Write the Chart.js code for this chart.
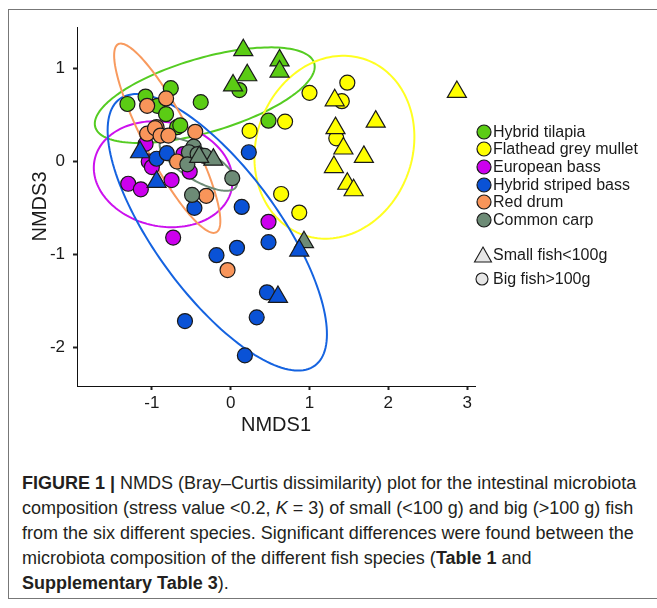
<!DOCTYPE html>
<html>
<head>
<meta charset="utf-8">
<script src="https://cdn.jsdelivr.net/npm/chart.js@4.4.1/dist/chart.umd.min.js"></script>
<style>
  body { margin: 0; width: 657px; height: 608px; background: #fff; position: relative; overflow: hidden;
         font-family: "Liberation Sans", Arial, sans-serif; color: #1a1a1a; }
  #frame { position: absolute; left: 8px; top: 9px; width: 700px; height: 590px; border: 1px solid #777; box-sizing: border-box; }
  #wrap { position: absolute; left: 0; top: 0; width: 657px; height: 440px; }
  .legMark { position: absolute; }
  .legText { position: absolute; font-size: 16px; line-height: 18px; white-space: nowrap; }
  #caption { position: absolute; left: 22px; top: 471px; font-size: 18px; line-height: 25px; white-space: nowrap; color: #231f20; }
</style>
</head>
<body>
<div id="frame"></div>
<div id="wrap"><canvas id="myChart" width="657" height="440"></canvas></div>
<div id="legend"></div>
<div id="caption">
  <b>FIGURE 1 |</b> NMDS (Bray–Curtis dissimilarity) plot for the intestinal microbiota<br>
  composition (stress value &lt;0.2, <i>K</i> = 3) of small (&lt;100 g) and big (&gt;100 g) fish<br>
  from the six different species. Significant differences were found between the<br>
  microbiota composition of the different fish species (<b>Table 1</b> and<br>
  <b>Supplementary Table 3</b>).
</div>
<script>
// species, in legend order
var speciesNames = ["Hybrid tilapia", "Flathead grey mullet", "European bass", "Hybrid striped bass", "Red drum", "Common carp"];
var speciesColors = ["#5bcc14", "#ffff00", "#cc00ee", "#0a52d6", "#f8955a", "#6d8b76"];
var ellipseColors = ["#55cc22", "#ffff22", "#cc11ee", "#1563e0", "#f89a5e", "#6d8b76"];

// NMDS1 / NMDS3 scores, big fish (>100 g) drawn as circles
var tilapiaBig = [[-1.31, 0.62], [-1.08, 0.70], [-0.76, 0.79], [-0.93, 0.60], [-0.82, 0.51], [-0.38, 0.64], [-0.68, 0.37], [-0.64, 0.39], [0.11, 0.77], [0.48, 0.44]];
var mulletBig = [[0.24, 0.33], [0.69, 0.43], [1.00, 0.74], [1.48, 0.85], [1.41, 0.65], [1.34, 0.25], [0.64, -0.35], [0.87, -0.55]];
var bassBig = [[-1.08, 0.19], [-0.60, 0.08], [-1.04, 0.0], [-1.0, -0.06], [-0.52, -0.11], [-1.30, -0.24], [-1.14, -0.30], [-0.75, -0.20], [-0.73, -0.82], [0.48, -0.65]];
var stripedBig = [[-0.94, 0.03], [-0.81, 0.09], [0.23, 0.10], [-0.46, -0.50], [0.14, -0.49], [0.48, -0.87], [0.08, -0.93], [-0.18, -1.01], [0.46, -1.41], [0.33, -1.68], [-0.58, -1.72], [0.18, -2.09]];
var drumBig = [[-0.82, 0.68], [-1.06, 0.60], [-0.94, 0.37], [-1.06, 0.30], [-0.96, 0.36], [-0.89, 0.28], [-0.79, 0.28], [-0.45, 0.32], [-0.31, -0.37], [-0.04, -1.17], [-0.68, 0.0]];
var carpBig = [[-0.47, 0.16], [-0.53, 0.10], [-0.42, 0.08], [-0.33, 0.06], [-0.55, -0.03], [0.02, -0.18], [-0.49, -0.36]];

// small fish (<100 g) drawn as triangles
var tilapiaSmall = [[0.16, 1.20], [0.62, 1.09], [0.62, 0.97], [0.21, 0.93], [0.03, 0.82]];
var mulletSmall = [[1.32, 0.66], [2.87, 0.75], [1.84, 0.43], [1.33, 0.36], [1.43, 0.14], [1.69, 0.05], [1.31, -0.06], [1.48, -0.24], [1.56, -0.31]];
var bassSmall = [];
var stripedSmall = [[-1.15, 0.10], [-0.94, -0.22], [0.87, -0.96], [0.60, -1.46]];
var drumSmall = [];
var carpSmall = [[-0.22, 0.02], [-0.40, 0.05], [0.93, -0.87]];

// 95% ellipses: centre and two conjugate half-axes, in NMDS units
var ellipseCenters = [[-0.329, 0.715], [1.316, 0.154], [-0.856, -0.137], [-0.170, -0.763], [-0.805, 0.251], [-0.411, -0.029]];
var ellipseAxisA = [[1.389, 0.345], [0.404, 0.943], [0.870, -0.157], [1.238, -1.437], [0.622, -1.014], [0.479, -0.245]];
var ellipseAxisB = [[0.132, -0.383], [0.931, -0.288], [-0.137, -0.549], [-0.635, -0.395], [-0.259, -0.114], [-0.104, -0.148]];

var xTickValues = [-1, 0, 1, 2, 3];
var yTickValues = [-2, -1, 0, 1];

var bigSets = [tilapiaBig, mulletBig, bassBig, stripedBig, drumBig, carpBig];
var smallSets = [tilapiaSmall, mulletSmall, bassSmall, stripedSmall, drumSmall, carpSmall];

function toPoints(arr) {
  return arr.map(function (p) { return { x: p[0], y: p[1] }; });
}

var datasets = [];
// small fish first so triangles sit on top (dataset 0 is drawn last)
[3, 0, 1, 2, 4, 5].forEach(function (i) {
  datasets.push({
    label: speciesNames[i] + " small",
    data: toPoints(smallSets[i]),
    pointStyle: "triangle",
    pointRadius: 11,
    backgroundColor: speciesColors[i],
    borderColor: "#1a1a1a",
    borderWidth: 1.2
  });
});
[5, 4, 3, 2, 1, 0].forEach(function (i) {
  datasets.push({
    label: speciesNames[i] + " big",
    data: toPoints(bigSets[i]),
    pointStyle: "circle",
    pointRadius: 7.5,
    backgroundColor: speciesColors[i],
    borderColor: "#1a1a1a",
    borderWidth: 1.2
  });
});

var ellipsePlugin = {
  id: "ellipses",
  beforeDatasetsDraw: function (chart) {
    var ctx = chart.ctx, area = chart.chartArea, xs = chart.scales.x, ys = chart.scales.y;
    ctx.save();
    ctx.beginPath();
    ctx.rect(area.left, area.top, area.right - area.left, area.bottom - area.top);
    ctx.clip();
    ellipseCenters.forEach(function (c, i) {
      var a = ellipseAxisA[i], b = ellipseAxisB[i];
      ctx.beginPath();
      for (var k = 0; k <= 160; k++) {
        var t = k / 160 * Math.PI * 2;
        var px = xs.getPixelForValue(c[0] + Math.cos(t) * a[0] + Math.sin(t) * b[0]);
        var py = ys.getPixelForValue(c[1] + Math.cos(t) * a[1] + Math.sin(t) * b[1]);
        if (k === 0) ctx.moveTo(px, py); else ctx.lineTo(px, py);
      }
      ctx.closePath();
      ctx.strokeStyle = ellipseColors[i];
      ctx.lineWidth = 2;
      ctx.stroke();
    });
    ctx.restore();
  }
};

var axisGrid = { drawOnChartArea: false, drawTicks: true, tickLength: 4, tickWidth: 2, tickColor: "#222" };

new Chart(document.getElementById("myChart").getContext("2d"), {
  type: "scatter",
  data: { datasets: datasets },
  plugins: [ellipsePlugin],
  options: {
    responsive: false,
    animation: false,
    devicePixelRatio: 1,
    layout: { padding: { left: 0, right: 182, top: 27, bottom: 0 } },
    plugins: { legend: { display: false }, tooltip: { enabled: false } },
    scales: {
      x: {
        type: "linear",
        min: -1.95,
        max: 3.1,
        afterBuildTicks: function (s) { s.ticks = xTickValues.map(function (v) { return { value: v }; }); },
        afterFit: function (s) { s.height = 54; },
        ticks: { font: { family: "Liberation Sans", size: 17 }, color: "#1a1a1a", padding: 3 },
        grid: axisGrid,
        border: { display: true, color: "#111", width: 1 },
        title: { display: true, text: "NMDS1", font: { family: "Liberation Sans", size: 20 }, color: "#1a1a1a", padding: { top: 0, bottom: 3 } }
      },
      y: {
        type: "linear",
        min: -2.42,
        max: 1.45,
        afterBuildTicks: function (s) { s.ticks = yTickValues.map(function (v) { return { value: v }; }); },
        afterFit: function (s) { s.width = 77; },
        ticks: { font: { family: "Liberation Sans", size: 17 }, color: "#1a1a1a", padding: 8 },
        grid: axisGrid,
        border: { display: true, color: "#111", width: 1 },
        title: { display: true, text: "NMDS3", font: { family: "Liberation Sans", size: 20 }, color: "#1a1a1a", padding: { top: 28, bottom: 0 } }
      }
    }
  }
});

// legend, right of the plot
var legend = document.getElementById("legend");
function addLegend(svg, cx, cy, text) {
  var m = document.createElement("div");
  m.className = "legMark";
  m.style.left = (cx - 10) + "px";
  m.style.top = (cy - 10) + "px";
  m.innerHTML = '<svg width="20" height="20">' + svg + '</svg>';
  legend.appendChild(m);
  var t = document.createElement("div");
  t.className = "legText";
  t.style.left = "493px";
  t.style.top = (cy - 9) + "px";
  t.textContent = text;
  legend.appendChild(t);
}
speciesNames.forEach(function (name, i) {
  addLegend('<circle cx="10" cy="10" r="7" fill="' + speciesColors[i] + '" stroke="#1a1a1a" stroke-width="1.2"/>', 484, 131.5 + i * 17.7, name);
});
addLegend('<polygon points="10,2 18.5,17 1.5,17" fill="#e6e6e6" stroke="#1a1a1a" stroke-width="1.1"/>', 483, 255, "Small fish<100g");
addLegend('<circle cx="10" cy="10" r="6" fill="#e6e6e6" stroke="#1a1a1a" stroke-width="1.1"/>', 482, 279, "Big fish>100g");
</script>
</body>
</html>
